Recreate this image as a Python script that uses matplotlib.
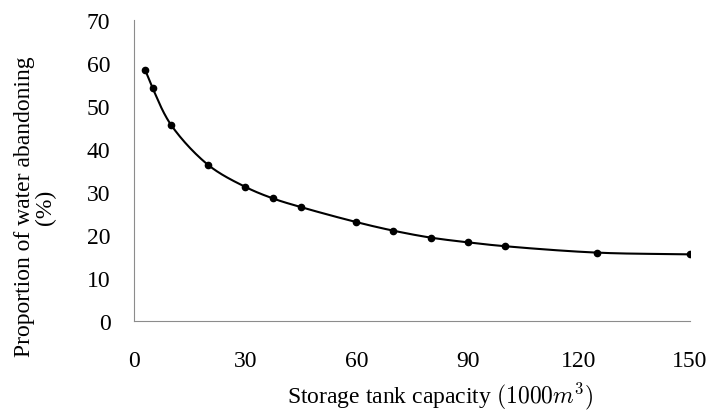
import numpy as np
import matplotlib.pyplot as plt

plt.rcParams['font.family'] = ['Liberation Serif', 'DejaVu Serif']
plt.rcParams['mathtext.fontset'] = 'cm'

capacity = [3, 5, 10, 20, 30, 37.5, 45, 60, 70, 80, 90, 100, 125, 150]
abandon = [58.4, 54.2, 45.6, 36.3, 31.2, 28.5, 26.5, 23.0, 21.0, 19.4, 18.3, 17.4, 15.9, 15.5]


def smooth(xs, ys, sx=3.7, sy=4.3, n=30):
    # centripetal catmull-rom through the points (like excel's smoothed line)
    p = np.column_stack([np.array(xs) * sx, np.array(ys) * sy])
    p = np.vstack([2 * p[0] - p[1], p, 2 * p[-1] - p[-2]])
    out = []
    for i in range(1, len(p) - 2):
        p0, p1, p2, p3 = p[i - 1], p[i], p[i + 1], p[i + 2]
        t0 = 0
        t1 = t0 + np.linalg.norm(p1 - p0) ** 0.5
        t2 = t1 + np.linalg.norm(p2 - p1) ** 0.5
        t3 = t2 + np.linalg.norm(p3 - p2) ** 0.5
        t = np.linspace(t1, t2, n)[:, None]
        a1 = (t1 - t) / (t1 - t0) * p0 + (t - t0) / (t1 - t0) * p1
        a2 = (t2 - t) / (t2 - t1) * p1 + (t - t1) / (t2 - t1) * p2
        a3 = (t3 - t) / (t3 - t2) * p2 + (t - t2) / (t3 - t2) * p3
        b1 = (t2 - t) / (t2 - t0) * a1 + (t - t0) / (t2 - t0) * a2
        b2 = (t3 - t) / (t3 - t1) * a2 + (t - t1) / (t3 - t1) * a3
        c = (t2 - t) / (t2 - t1) * b1 + (t - t1) / (t2 - t1) * b2
        out.append(c)
    c = np.vstack(out)
    return c[:, 0] / sx, c[:, 1] / sy


fig = plt.figure(figsize=(7.12, 4.14), dpi=100)
ax = fig.add_axes([0.1882, 0.2222, 0.7809, 0.7271])

sx, sy = smooth(capacity, abandon)
ax.plot(sx, sy, color='black', linewidth=1.5)
ax.plot(capacity, abandon, 'o', color='black', markersize=4.5)

ax.set_xlim(0, 150)
ax.set_ylim(0, 70)
ax.set_xticks(range(0, 151, 30))
ax.set_yticks(range(0, 71, 10))
ax.tick_params(axis='both', length=0, labelsize=17)
ax.tick_params(axis='y', pad=17)
ax.tick_params(axis='x', pad=21)
for s in ['top', 'right']:
    ax.spines[s].set_visible(False)
for s in ['left', 'bottom']:
    ax.spines[s].set_color('#8c8c8c')
    ax.spines[s].set_linewidth(0.8)

fig.text(440 / 712, 2 / 414, 'Storage tank capacity $(1000m^3)$',
         ha='center', va='bottom', fontsize=17)
fig.text(35 / 712, 1 - 207 / 414, 'Proportion of water abandoning\n(%)',
         ha='center', va='center', rotation=90, fontsize=17,
         multialignment='center', linespacing=1.05)

fig.savefig('out.png', dpi=100)
